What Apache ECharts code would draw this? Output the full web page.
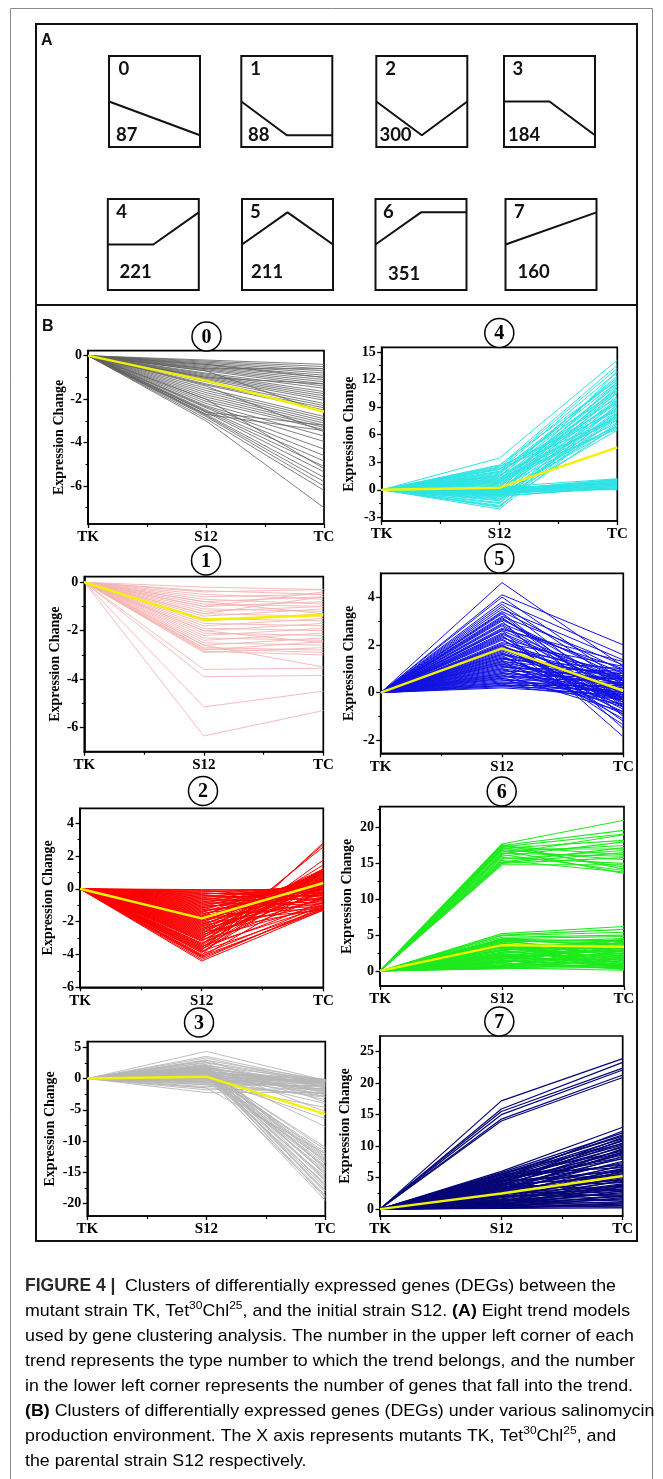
<!DOCTYPE html>
<html><head><meta charset="utf-8">
<script src="https://cdn.jsdelivr.net/npm/echarts@6/dist/echarts.min.js"></script>
<style>html,body{margin:0;padding:0;background:#fff}#c{width:663px;height:1479px}</style>
</head><body><div id="c"></div>
<script>
// ---------------- DATA ----------------
const categories = ['TK', 'S12', 'TC'];
const tkBaseline = 0;

// Panel A: trend models
const trendIds = ['0', '1', '2', '3', '4', '5', '6', '7'];
const geneCounts = [87, 88, 300, 184, 221, 211, 351, 160];
const trendTK = [0, 0, 0, 0, 0, 0, 0, 0];
const trendS12 = [null, -1, -1, 0, 0, 1, 1, null];
const trendTC = [-1, -1, 0, -1, 1, 0, 1, 1];

// Panel B: expression change of each gene at S12 and TC (TK = 0)
const c0S12 = [-0.2,-0.25,-0.3,-0.35,-0.4,-0.45,-0.5,-0.55,-0.6,-0.65,-0.7,-0.8,-0.85,-0.9,-0.95,-1.0,-1.05,-1.1,-1.2,-1.3,-1.35,-1.5,-1.6,-1.7,-1.8,-1.9,-2.0,-2.1,-2.6,-2.7,-2.2,-2.3,-2.35,-2.4,-2.5,-2.55,-2.6,-2.7,-2.75,-2.8,-2.9,-3.0,-0.4,-0.6,-1.0,-0.7,-1.4,-2.0];
const c0TC  = [-0.4,-0.5,-0.6,-0.7,-0.8,-0.9,-1.0,-1.1,-1.2,-1.3,-1.4,-1.5,-1.65,-1.75,-1.85,-1.95,-2.05,-2.2,-2.3,-2.4,-2.5,-2.8,-2.9,-3.0,-3.1,-3.2,-3.3,-3.4,-3.2,-3.45,-3.7,-3.95,-4.3,-4.6,-4.85,-5.1,-5.35,-5.6,-5.8,-6.0,-6.2,-7.0,-1.0,-0.6,-1.3,-2.6,-3.5,-5.2];
const c0Mean = [0, -1.15, -2.58];

const c1S12 = [-0.2,-0.35,-0.4,-0.5,-0.6,-0.7,-0.8,-0.9,-1.0,-1.1,-1.2,-1.3,-1.4,-1.5,-1.6,-1.7,-1.8,-1.9,-2.0,-2.1,-2.2,-2.3,-2.4,-2.5,-2.6,-2.7,-2.75,-2.8,-2.85,-2.9,-2.6,-3.6,-3.9,-5.15,-6.35,-1.0,-1.3,-0.8,-2.0];
const c1TC  = [-0.3,-0.5,-0.3,-0.7,-0.5,-0.9,-0.6,-1.0,-0.8,-1.2,-1.0,-1.4,-1.1,-1.6,-1.3,-1.8,-1.5,-2.0,-1.7,-2.2,-1.9,-2.4,-2.1,-2.6,-2.3,-2.8,-2.9,-2.45,-3.0,-2.7,-3.5,-3.55,-3.85,-4.5,-5.3,-0.4,-0.6,-1.3,-2.5];
const c1Mean = [0, -1.55, -1.35];

const c2S12 = [-0.05,-0.1,-0.15,-0.2,-0.25,-0.3,-0.35,-0.4,-0.45,-0.5,-0.55,-0.6,-0.65,-0.7,-0.75,-0.8,-0.85,-0.9,-0.95,-1.0,-1.05,-1.1,-1.15,-1.2,-1.25,-1.3,-1.35,-1.4,-1.45,-1.5,-1.55,-1.6,-1.65,-1.7,-1.75,-1.8,-1.85,-1.9,-1.95,-2.0,-2.05,-2.1,-2.15,-2.2,-2.25,-2.3,-2.35,-2.4,-2.45,-2.5,-2.55,-2.6,-2.65,-2.7,-2.75,-2.8,-2.85,-2.9,-2.95,-3.0,-3.05,-3.1,-3.15,-3.2,-3.3,-3.35,-3.4,-3.45,-3.5,-3.55,-3.6,-3.65,-3.7,-3.75,-3.8,-3.85,-3.9,-4.0,-4.05,-4.1,-4.15,-4.2,-4.3,-4.4];
const c2TC  = [-0.1,0.0,-0.3,0.1,-0.5,-0.2,0.2,-0.7,0.0,-0.4,0.3,-0.9,-0.1,0.4,-0.6,0.1,-1.0,0.5,-0.3,0.2,-0.8,0.6,-0.2,0.3,-1.1,0.7,-0.4,0.0,0.8,-0.6,0.4,-1.2,0.9,-0.1,0.5,-0.9,1.0,0.2,-0.5,0.7,-1.3,1.1,0.0,0.6,-0.7,1.2,0.3,-1.0,0.9,-0.3,1.0,0.1,-1.2,0.8,1.1,-0.6,0.5,1.2,-0.2,0.9,1.45,-1.0,0.4,1.2,-0.5,0.7,2.55,1.0,-1.1,0.3,1.75,-0.8,1.1,2.7,-1.25,0.6,1.2,-1.0,2.8,-1.3,0.2,-1.2,-1.1,-1.3];
const c2Mean = [0, -1.8, 0.35];

const c3S12 = [4.35,3.55,3.3,2.9,2.5,1.9,1.5,1.2,1.0,0.8,0.6,0.4,0.2,0.0,-0.2,-0.4,-0.6,-0.8,-1.0,-1.3,-1.8,-2.25,0.9,1.6,-0.5,2.2,1.0,0.5,2.0,0.0,1.4,-1.0,3.0,1.2,0.8,1.5,0.5,2.0,0.3,1.0,1.8,0.6,1.3,2.3,0.2,1.0,1.6,0.4,2.0,1.1,0.7,1.5,0.9,1.2,0.5,-0.5,-1.5,2.8,
  0.7,1.1,1.7,2.6,-0.1,0.3,1.3,-0.7,0.5,2.0,-1.5,0.1,1.8,-0.3,1.4,1.4,0.9,1.7,0.6,1.2,2.1,0.8,1.4,0.3,1.0];
const c3TC  = [-0.3,-0.5,-1.0,-0.2,-0.8,-1.5,-0.4,-1.2,-0.1,-2.0,-0.6,-1.8,-0.3,-2.5,-0.9,-1.4,-0.2,-2.8,-1.1,-0.5,-1.6,-2.2,-0.7,-2.3,-3.0,-1.3,-3.4,-4.0,-5.3,-6.4,-7.7,-4.6,-3.8,-11.0,-11.8,-12.4,-12.8,-13.2,-13.6,-14.0,-14.3,-14.7,-15.0,-15.4,-15.7,-16.0,-16.4,-16.8,-17.2,-17.5,-17.9,-18.3,-18.7,-19.1,-19.5,-13.0,-12.0,-14.5,
  -0.15,-0.6,-1.0,-0.4,-1.7,-2.1,-2.6,-1.2,-0.9,-0.2,-2.4,-0.5,-1.9,-0.35,-2.9,-11.4,-12.1,-13.4,-14.2,-15.2,-16.2,-17.0,-18.0,-18.9,-12.6];
const c3Mean = [0, 0.3, -5.7];

const c4S12 = [3.45,2.6,2.4,2.2,2.0,1.8,1.5,1.2,1.0,0.8,0.5,0.3,0.0,-0.3,-0.6,-0.9,-1.2,-1.5,-1.8,-2.1,2.3,1.6,0.9,0.2,-0.5,-1.0,-1.4,1.4,0.6,-0.2,2.0,1.1,-0.8,0.4,1.9,-1.7,2.5,1.3,
  1.7,0.7,-0.4,1.2,2.2,-1.1,0.1,1.5,-0.7,0.8,2.7,-1.9,0.3,1.0,-0.1,
  0.3,0.2,0.1,0.0,-0.1,-0.2,-0.3,-0.4,-0.5,-0.6,-0.7,0.25,0.15,0.05,-0.05,-0.15,-0.25,-0.35,-0.45,-0.55,-0.65,0.3,-0.1,0.0,-0.3];
const c4TC  = [14.1,13.55,13.2,12.8,12.0,11.7,11.3,11.0,10.7,10.5,10.2,9.9,9.75,9.5,9.2,9.0,8.7,8.5,8.2,8.0,7.8,7.6,7.3,7.0,6.8,6.5,9.8,12.4,8.8,11.2,9.4,8.0,7.2,11.7,10.0,7.0,8.6,6.6,
  12.2,11.5,10.6,9.6,10.8,8.3,8.4,8.9,7.6,6.9,11.9,9.3,10.9,7.8,12.9,
  1.2,0.0,0.9,0.3,1.1,0.5,0.1,0.8,0.4,1.0,0.2,0.6,0.15,1.05,0.7,0.35,0.95,0.05,0.55,0.85,0.25,0.45,0.65,1.15,0.75];
const c4Mean = [0, 0.22, 4.6];

const c5S12 = [4.61,4.1,4.0,3.8,3.6,3.5,3.4,3.3,3.2,3.1,3.0,2.9,2.8,2.7,2.6,2.5,2.4,2.3,2.2,2.1,2.0,1.95,1.9,1.85,1.8,1.7,1.6,1.5,1.4,1.3,1.2,1.1,1.0,0.9,0.8,0.7,0.6,0.5,0.4,0.3,0.2,0.25,0.35,0.45,0.55,0.65,0.75,0.85,0.95,1.05,1.15,1.25,1.35,1.45,1.55,1.65,1.75,2.05,2.25,2.45,2.65,2.85,3.05,3.35,3.7,
  2.35,1.9,1.45,1.0,0.6,0.4,0.8,1.2,1.6,2.0,2.6,3.15,0.3,1.3,0.7];
const c5TC  = [1.1,2.0,0.5,1.58,-0.3,1.37,0.9,-1.0,1.16,0.2,-1.5,0.8,-0.5,1.0,-1.85,0.4,-1.2,0.7,-0.2,1.1,-1.35,0.3,-0.7,0.9,0.0,-1.1,0.6,-0.4,1.0,-0.9,0.2,0.5,-0.6,0.8,-0.1,0.4,-0.3,0.6,0.0,0.3,-0.1,0.1,-0.2,0.2,-0.5,0.7,-0.8,0.1,-0.2,0.9,-0.5,0.4,-0.1,0.7,-0.8,0.3,-0.3,0.6,-0.9,0.2,1.3,-0.1,0.6,-0.6,0.3,
  -0.4,0.5,-0.2,0.3,-0.1,0.4,0.6,-0.3,0.1,-0.6,0.5,-0.3,-0.3,0.8,0.0];
const c5Mean = [0, 1.86, 0.08];

const c6S12 = [17.7,17.5,17.4,17.3,17.2,17.1,17.0,16.9,16.8,16.6,16.4,16.2,16.0,15.8,15.6,15.4,15.2,15.0,14.8,15.1,16.3,17.6,5.2,5.0,4.9,4.7,4.5,4.4,4.2,4.0,3.8,3.6,3.4,3.2,3.0,2.8,2.6,2.4,2.2,2.0,1.8,1.6,1.4,1.2,1.0,0.8,0.6,0.4,0.3,4.3,3.9,3.5,2.9,2.5,1.9,1.3,0.9,0.5,4.1,3.3,2.1,1.7,1.1,0.7,
  0.35,0.5,0.8,1.1,1.4,1.7,2.0,2.3,2.6,2.9,3.2,3.5,3.8,4.1,4.4,1.5,2.4,3.0,3.7,4.2,0.6,1.9];
const c6TC  = [21.0,19.6,16.2,19.1,14.5,18.2,17.0,15.5,13.6,17.5,16.0,14.0,18.0,15.0,16.8,13.8,17.2,15.8,14.8,16.5,19.0,14.2,6.2,5.8,5.4,5.0,4.8,4.2,3.7,4.5,3.0,2.4,3.9,1.8,3.3,1.2,2.7,0.6,2.1,4.0,1.5,3.2,0.9,2.5,0.3,1.9,3.6,0.1,1.1,2.0,1.0,0.4,4.3,3.5,2.9,4.1,2.2,0.7,0.2,2.6,0.5,1.6,3.9,1.4,
  0.5,1.7,2.8,0.6,2.0,3.4,1.1,2.9,4.2,0.8,2.3,3.1,1.4,2.8,3.5,0.2,1.7,4.4,0.6,4.1,0.9,2.4];
const c6Mean = [0, 3.6, 3.38];

const c7S12 = [17.2,15.9,15.5,15.0,14.3,14.0,6.0,5.8,5.6,5.4,5.2,5.0,4.8,4.6,4.4,4.2,4.0,3.8,3.6,3.4,3.2,3.0,2.8,2.6,2.4,2.2,2.0,1.8,1.6,1.4,1.2,1.0,0.9,0.8,0.7,0.6,0.5,0.4,0.3,0.2,0.1,1.1,1.5,2.5,3.5,4.5,5.5,3.9,2.7,4.9,1.9,0.55,
  0.3,0.5,0.8,1.0,1.2,1.4,1.6,1.8,2.0,2.2,2.4,2.6,2.8,3.0,3.2,3.4,3.6,3.8,4.0,4.2,4.4,4.6,4.8,5.0,5.2,5.6,0.2,0.7,1.3,2.1,3.1,4.0];
const c7TC  = [23.9,23.3,22.4,22.1,21.3,20.9,13.0,12.1,11.6,11.8,11.2,10.8,10.2,9.8,9.0,10.5,8.6,9.4,8.0,7.4,8.8,6.8,7.6,6.2,5.6,7.0,5.0,4.4,6.0,3.8,3.2,4.6,2.6,2.0,3.6,1.6,1.2,2.2,0.8,0.5,0.2,1.4,2.4,3.0,4.2,5.4,6.6,11.0,9.6,8.2,3.4,0.3,
  1.8,2.9,3.9,1.0,5.2,2.0,4.0,6.4,2.8,4.8,8.4,3.6,5.8,9.0,4.6,6.4,10.0,5.2,7.2,11.4,6.0,8.0,12.4,7.0,9.2,10.4,1.0,0.6,1.6,2.2,1.9,3.0];
const c7Mean = [0, 2.47, 5.26];

// axis extents and tick labels
const yRanges = [[-7.75,0.23],[-7.0,0.23],[-6,4.9],[-22,5.9],[-3.4,15.5],[-2.54,5.0],[-2.1,22.9],[-1.1,27.5]];
const yTicks = [[-6,-4,-2,0],[-6,-4,-2,0],[-6,-4,-2,0,2,4],[-20,-15,-10,-5,0,5],[-3,0,3,6,9,12,15],[-2,0,2,4],[0,5,10,15,20],[0,5,10,15,20,25]];
const yMinorTicks = [[-7,-5,-3,-1],[-5,-3,-1],[-5,-3,-1,1,3],[-17.5,-12.5,-7.5,-2.5,2.5],[-1.5,1.5,4.5,7.5,10.5,13.5],[-1,1,3],[2.5,7.5,12.5,17.5,22.5],[2.5,7.5,12.5,17.5,22.5]];
const xTicks = [0, 1, 2];
const xMinorTicks = [0.5, 1.5];

// caption text
const captionHead = 'FIGURE 4 |';
const captionLines = [
  [['n','Clusters of differentially expressed genes (DEGs) between the']],
  [['n','mutant strain TK, Tet'],['s','30'],['n','Chl'],['s','25'],['n',', and the initial strain S12. '],['b','(A)'],['n',' Eight trend models']],
  [['n','used by gene clustering analysis. The number in the upper left corner of each']],
  [['n','trend represents the type number to which the trend belongs, and the number']],
  [['n','in the lower left corner represents the number of genes that fall into the trend.']],
  [['b','(B)'],['n',' Clusters of differentially expressed genes (DEGs) under various salinomycin']],
  [['n','production environment. The X axis represents mutants TK, Tet'],['s','30'],['n','Chl'],['s','25'],['n',', and']],
  [['n','the parental strain S12 respectively.']]
];

// ---------------- LAYOUT / STYLE ----------------
const serif = '"Liberation Serif","Times New Roman",serif';
const sans = '"Liberation Sans",Arial,sans-serif';
const figSans = 'Lato,"Liberation Sans",sans-serif';
const boxSize = 91;
const boxesA = [[109,56],[241.3,56],[376.3,56],[504,56],[107.8,199],[242,199],[375.5,199],[505.5,199]];
const rowRangeA = [[-1.35,1.35],[-1.416,1.416]];
const topNumDx = [9.5,9,9,8.5,8.5,8,7.5,8.5];
const botNumDx = [7,6.7,3.1,4,11.7,9,12.5,12];
const botNumDy = [79,79,79,79,73.5,73.5,75,73.5];

const clusters = [
  {s12:c0S12, tc:c0TC, mean:c0Mean, color:'#606060', lw:0.8, box:[88,350.7,324,524], circle:[206.5,336.5], nameGap:22},
  {s12:c1S12, tc:c1TC, mean:c1Mean, color:'#f5b3b3', lw:0.9, box:[84.3,576.7,323.3,751.7], circle:[206,560.5], nameGap:22},
  {s12:c2S12, tc:c2TC, mean:c2Mean, color:'#fa0000', lw:1.0, box:[80,808.3,323.3,987.3], circle:[203,791], nameGap:25},
  {s12:c3S12, tc:c3TC, mean:c3Mean, color:'#b5b5b5', lw:0.9, box:[87.3,1041.7,325.3,1216], circle:[199,1022.5], nameGap:30},
  {s12:c4S12, tc:c4TC, mean:c4Mean, color:'#2ee3e3', lw:1.0, box:[381.7,347.3,617.3,521], circle:[499.3,333], nameGap:25},
  {s12:c5S12, tc:c5TC, mean:c5Mean, color:'#1212e2', lw:1.0, box:[380.7,573.3,623.3,753.3], circle:[499.3,558.5], nameGap:24},
  {s12:c6S12, tc:c6TC, mean:c6Mean, color:'#1eea1e', lw:1.1, box:[380,806.7,624,986], circle:[501.7,791.5], nameGap:26},
  {s12:c7S12, tc:c7TC, mean:c7Mean, color:'#060676', lw:1.2, box:[380,1036,622.7,1216], circle:[499.3,1021.5], nameGap:28}
];

// ---------------- BUILD ----------------
const grids = [], xAxes = [], yAxes = [], series = [], graphics = [];

graphics.push({type:'rect', shape:{x:10.5,y:8.5,width:642,height:1500}, style:{fill:'none',stroke:'#8c8c8c',lineWidth:1}, silent:true, z:1});
graphics.push({type:'rect', shape:{x:36,y:24,width:601,height:1217}, style:{fill:'none',stroke:'#111',lineWidth:2}, silent:true, z:1});
graphics.push({type:'line', shape:{x1:36,y1:305,x2:637,y2:305}, style:{stroke:'#111',lineWidth:2}, silent:true, z:1});
graphics.push({type:'text', x:41, y:40.5, style:{text:'A', fontFamily:sans, fontWeight:'bold', fontSize:16, fill:'#111', verticalAlign:'middle'}, z:5});
graphics.push({type:'text', x:42, y:327, style:{text:'B', fontFamily:sans, fontWeight:'bold', fontSize:16, fill:'#111', verticalAlign:'middle'}, z:5});

// Panel A schematics
trendIds.forEach((id, i) => {
  const [bx, by] = boxesA[i];
  const gi = grids.length;
  grids.push({left:bx, top:by, width:boxSize, height:boxSize, show:true, borderColor:'#111', borderWidth:2, backgroundColor:'transparent'});
  const xi = xAxes.length, yi = yAxes.length;
  xAxes.push({gridIndex:gi, type:'value', min:0, max:2, show:false});
  const r = i < 4 ? rowRangeA[0] : rowRangeA[1];
  yAxes.push({gridIndex:gi, type:'value', min:r[0], max:r[1], show:false});
  const pts = [[0,trendTK[i]],[1,trendS12[i]],[2,trendTC[i]]].filter(p => p[1] !== null);
  series.push({type:'line', xAxisIndex:xi, yAxisIndex:yi, data:pts, symbol:'none', lineStyle:{color:'#111',width:2}, silent:true, z:3});
  graphics.push({type:'text', x:bx+topNumDx[i], y:by+13.5, style:{text:id, fontFamily:figSans, fontWeight:'bold', fontSize:18.5, fill:'#111', verticalAlign:'middle'}, z:5});
  graphics.push({type:'text', x:bx+botNumDx[i], y:by+botNumDy[i], style:{text:String(geneCounts[i]), fontFamily:figSans, fontWeight:'bold', fontSize:18.5, fill:'#111', verticalAlign:'middle'}, z:5});
});

// Panel B clusters
clusters.forEach((c, k) => {
  const [l, t, r, b] = c.box;
  const gi = grids.length;
  grids.push({left:l, top:t, width:r-l, height:b-t, show:true, borderColor:'#000', borderWidth:1.7, backgroundColor:'transparent'});
  const xi = xAxes.length;
  xAxes.push({gridIndex:gi, type:'value', min:0, max:2, position:'bottom',
    axisLine:{show:true, onZero:false, lineStyle:{color:'#000', width:1.7}},
    axisTick:{show:true, customValues:xTicks, length:4, lineStyle:{color:'#000', width:1.3}},
    axisLabel:{show:true, customValues:xTicks, formatter:v => categories[Math.round(v)], margin:6, color:'#000', fontFamily:serif, fontWeight:'bold', fontSize:15},
    splitLine:{show:false}});
  xAxes.push({gridIndex:gi, type:'value', min:0, max:2, position:'bottom',
    axisLine:{show:false, onZero:false},
    axisTick:{show:true, customValues:xMinorTicks, length:3, lineStyle:{color:'#000', width:1.2}},
    axisLabel:{show:false}, splitLine:{show:false}});
  const yi = yAxes.length;
  const [ymin, ymax] = yRanges[k];
  yAxes.push({gridIndex:gi, type:'value', min:ymin, max:ymax, position:'left',
    axisLine:{show:true, onZero:false, lineStyle:{color:'#000', width:1.7}},
    axisTick:{show:true, customValues:yTicks[k], length:4.5, lineStyle:{color:'#000', width:1.3}},
    axisLabel:{show:true, customValues:yTicks[k], margin:6, color:'#000', fontFamily:serif, fontWeight:'bold', fontSize:14},
    splitLine:{show:false},
    name:'Expression Change', nameLocation:'middle', nameRotate:90, nameGap:c.nameGap,
    nameTextStyle:{fontFamily:serif, fontWeight:'bold', fontSize:14, color:'#000'}});
  yAxes.push({gridIndex:gi, type:'value', min:ymin, max:ymax, position:'left',
    axisLine:{show:false, onZero:false},
    axisTick:{show:true, customValues:yMinorTicks[k], length:2.5, lineStyle:{color:'#000', width:1.1}},
    axisLabel:{show:false}, splitLine:{show:false}});
  const n = Math.min(c.s12.length, c.tc.length);
  for (let i = 0; i < n; i++) {
    series.push({type:'line', xAxisIndex:xi, yAxisIndex:yi, symbol:'none', silent:true, z:2,
      data:[[0,tkBaseline],[1,c.s12[i]],[2,c.tc[i]]],
      lineStyle:{color:c.color, width:c.lw}});
  }
  series.push({type:'line', xAxisIndex:xi, yAxisIndex:yi, symbol:'none', silent:true, z:4,
    data:categories.map((cat, j) => [j, c.mean[j]]),
    lineStyle:{color:'#f2f200', width:2.4}});
  graphics.push({type:'circle', shape:{cx:c.circle[0], cy:c.circle[1], r:14.5}, style:{fill:'#fff', stroke:'#000', lineWidth:1.5}, silent:true, z:10});
  graphics.push({type:'text', x:c.circle[0], y:c.circle[1]+1, style:{text:trendIds[k], fontFamily:serif, fontWeight:'bold', fontSize:20, fill:'#000', align:'center', verticalAlign:'middle'}, z:11});
});

// Caption
const capRich = {
  n:{fontFamily:sans, fontSize:17, color:'#444', lineHeight:22},
  b:{fontFamily:sans, fontSize:17, fontWeight:'bold', color:'#2a2a2a', lineHeight:22},
  s:{fontFamily:sans, fontSize:11.5, color:'#444', lineHeight:10, verticalAlign:'top'}
};
const mctx = document.createElement('canvas').getContext('2d');
mctx.font = '17px "Liberation Sans", Arial, sans-serif';
const refW = mctx.measureText(captionLines[3].map(s => s[1]).join('')).width;
const capScale = 610 / refW;
graphics.push({type:'text', x:25, y:1286, style:{text:captionHead, fontFamily:sans, fontWeight:'bold', fontSize:17.5, fill:'#2a2a2a', verticalAlign:'middle'}, z:5});
captionLines.forEach((segs, i) => {
  graphics.push({type:'text', x: i === 0 ? 125 : 25, y:1286 + 25*i, scaleX:capScale,
    style:{text:segs.map(s => '{' + s[0] + '|' + s[1] + '}').join(''), rich:capRich, verticalAlign:'middle'}, z:5});
});

const chart = echarts.init(document.getElementById('c'), null, {renderer:'canvas', width:663, height:1479});
chart.setOption({
  animation:false,
  backgroundColor:'#fff',
  grid:grids, xAxis:xAxes, yAxis:yAxes, series:series, graphic:graphics
});
</script>
</body></html>
